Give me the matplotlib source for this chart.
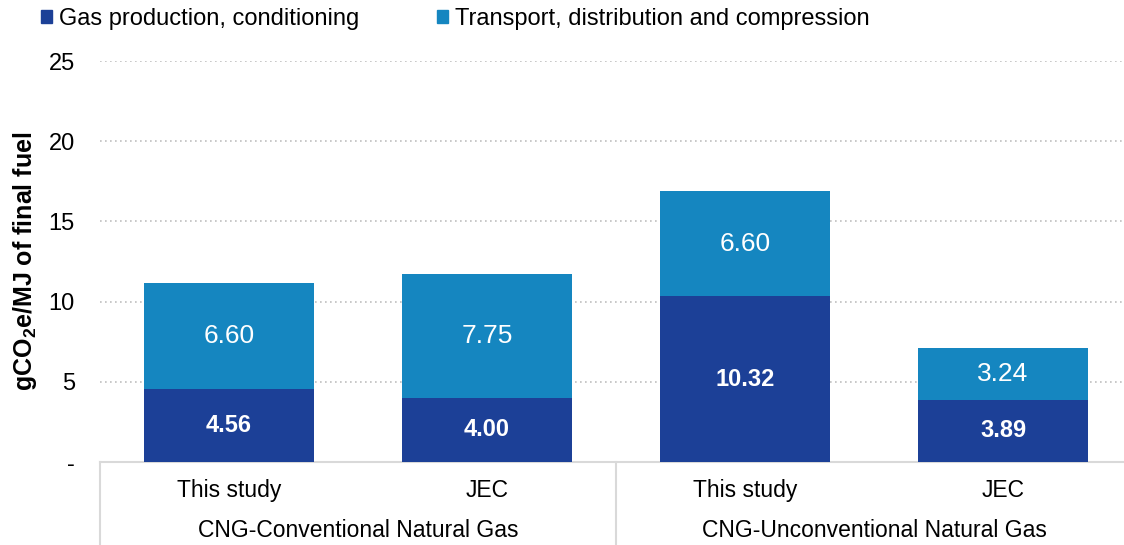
import matplotlib
matplotlib.use("Agg")
import matplotlib.pyplot as plt
import numpy as np
from matplotlib.patches import Patch

plt.rcParams["font.family"] = ["Liberation Sans", "DejaVu Sans"]
plt.rcParams["mathtext.fontset"] = "custom"
plt.rcParams["mathtext.rm"] = "Liberation Sans"
plt.rcParams["mathtext.bf"] = "Liberation Sans:bold"

sources = ["This study", "JEC", "This study", "JEC"]
groups = ["CNG-Conventional Natural Gas", "CNG-Unconventional Natural Gas"]
production = [4.56, 4.00, 10.32, 3.89]
transport = [6.60, 7.75, 6.60, 3.24]
yticks = [0, 5, 10, 15, 20, 25]
yticklabels = ["-", "5", "10", "15", "20", "25"]

DARK = "#1c4097"
LIGHT = "#1586c0"
LINE = "#d9d9d9"

fig = plt.figure(figsize=(11.24, 5.45), dpi=100)
ax = fig.add_axes([100 / 1124, 1 - 462 / 545, 1032 / 1124, (462 - 61) / 545])

x = np.arange(len(sources))
w = 0.66
ax.bar(x, production, w, color=DARK, zorder=3)
ax.bar(x, transport, w, bottom=production, color=LIGHT, zorder=3)

for xi, p, t in zip(x, production, transport):
    ax.text(xi, p / 2, f"{p:.2f}", ha="center", va="center", color="white",
            fontsize=17, fontweight="bold", zorder=4)
    ax.text(xi, p + t / 2, f"{t:.2f}", ha="center", va="center", color="white",
            fontsize=19, zorder=4)

ax.set_xlim(-0.5, 3.5)
ax.set_ylim(0, 25)
ax.set_yticks(yticks)
ax.set_yticklabels(yticklabels, fontsize=17)
ax.tick_params(axis="y", length=0, pad=18)
ax.set_xticks([])
for s in ["top", "right", "left"]:
    ax.spines[s].set_visible(False)
ax.spines["bottom"].set_color(LINE)
ax.spines["bottom"].set_linewidth(1.5)
ax.yaxis.grid(True, linestyle=(0, (1, 2)), color="#bfbfbf", linewidth=1.2, zorder=0)
ax.set_ylabel(r"gCO$_\mathbf{2}$e/MJ of final fuel", fontsize=18, fontweight="bold")
ax.yaxis.set_label_coords(-0.073, 0.5)
ax.yaxis.label.set_va("center")

# category axis below the bars
tr = ax.get_xaxis_transform()
for xi, lab in zip(x, sources):
    ax.text(xi, -0.07, lab, transform=tr, ha="center", va="center", fontsize=16.5)
for gi, g in enumerate(groups):
    ax.text(2 * gi + 0.5, -0.17, g, transform=tr, ha="center", va="center", fontsize=16.5)
for sx in [-0.5, 1.5, 3.5]:
    ax.plot([sx, sx], [0, -0.3], transform=tr, color=LINE, linewidth=1.5, clip_on=False)

handles = [Patch(color=DARK, label="Gas production, conditioning"),
           Patch(color=LIGHT, label="Transport, distribution and compression")]
fig.legend(handles=handles, loc="upper left", bbox_to_anchor=(0.018, 1.025), ncol=2,
           frameon=False, fontsize=17, handlelength=0.45, handleheight=0.45,
           handletextpad=0.3, columnspacing=3.3)

fig.savefig("out.png", dpi=100)
